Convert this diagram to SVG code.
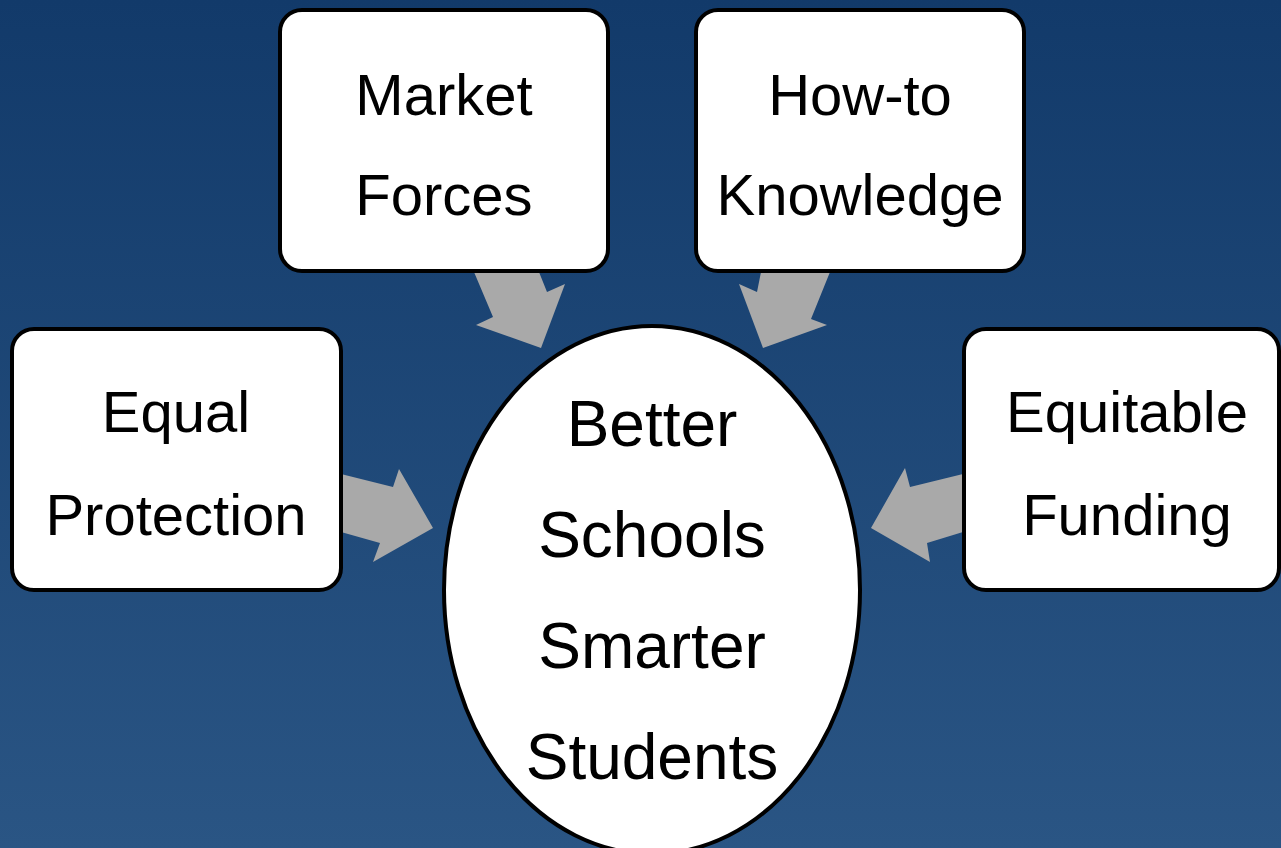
<svg xmlns="http://www.w3.org/2000/svg" width="1281" height="848" viewBox="0 0 1281 848">
  <defs>
    <linearGradient id="bg" x1="0" y1="0" x2="0" y2="1">
      <stop offset="0" stop-color="#123a6a"/>
      <stop offset="1" stop-color="#2a5584"/>
    </linearGradient>
  </defs>
  <style>
    .box { fill: #ffffff; stroke: #000000; stroke-width: 4; }
    .arrow { fill: #a9a9a9; stroke: none; }
    .label { font-family: "Liberation Sans", Arial, sans-serif; font-size: 58px; fill: #000000; text-anchor: middle; }
    .big { font-size: 64px; }
  </style>

  <rect x="0" y="0" width="1281" height="848" fill="url(#bg)"/>

  <!-- block arrows pointing into the central ellipse -->
  <g id="connectors">
    <polygon class="arrow" points="474,272 539,272 547,292 565,284 541,348 476,325 493,317"/>
    <polygon class="arrow" points="761,272 830,272 811,319 827,325 763,348 739,284 757,292"/>
    <polygon class="arrow" points="341,474 393,487 399,469 433,528 373,562 380,543 341,532"/>
    <polygon class="arrow" points="963,474 910,487 905,468 871,528 930,562 927,543 963,532"/>
  </g>

  <g id="market-forces">
    <rect class="box" x="280" y="10" width="328" height="261" rx="22"/>
    <text class="label" x="444" y="115">Market</text>
    <text class="label" x="444" y="215">Forces</text>
  </g>

  <g id="how-to-knowledge">
    <rect class="box" x="696" y="10" width="328" height="261" rx="22"/>
    <text class="label" x="860" y="115">How-to</text>
    <text class="label" x="860" y="215">Knowledge</text>
  </g>

  <g id="equal-protection">
    <rect class="box" x="12" y="329" width="329" height="261" rx="22"/>
    <text class="label" x="176" y="432">Equal</text>
    <text class="label" x="176" y="535">Protection</text>
  </g>

  <g id="equitable-funding">
    <rect class="box" x="964" y="329" width="315" height="261" rx="22"/>
    <text class="label" x="1127" y="432">Equitable</text>
    <text class="label" x="1127" y="535">Funding</text>
  </g>

  <g id="better-schools">
    <ellipse class="box" cx="652" cy="590" rx="208" ry="264"/>
    <text class="label big" x="652" y="446">Better</text>
    <text class="label big" x="652" y="557">Schools</text>
    <text class="label big" x="652" y="668">Smarter</text>
    <text class="label big" x="652" y="779">Students</text>
  </g>
</svg>
